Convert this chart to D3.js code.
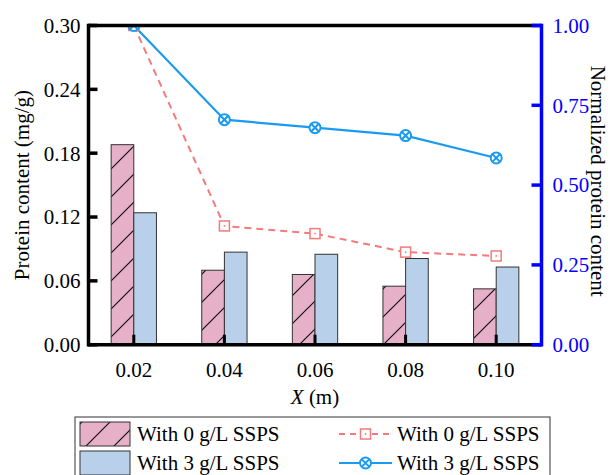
<!DOCTYPE html>
<html>
<head>
<meta charset="utf-8">
<script src="https://cdn.jsdelivr.net/npm/d3@7/dist/d3.min.js"></script>
<style>
  html, body { margin: 0; padding: 0; background: #fff; }
  svg { display: block; }
</style>
</head>
<body>
<svg id="chart" width="610" height="475" font-family="'Liberation Serif', 'Times New Roman', Times, serif"></svg>
<script>
// Distance X (m)
const positions = [0.02, 0.04, 0.06, 0.08, 0.10];
const xTickLabels = ["0.02", "0.04", "0.06", "0.08", "0.10"];
// Protein content (mg/g), bars
const protein0 = [0.188, 0.070, 0.066, 0.055, 0.0525];
const protein3 = [0.124, 0.087, 0.085, 0.081, 0.073];
// Normalized protein content, lines
const norm0 = [1.00, 0.372, 0.348, 0.290, 0.278];
const norm3 = [1.00, 0.705, 0.680, 0.655, 0.585];
// Axis ticks
const leftTicks = [0.00, 0.06, 0.12, 0.18, 0.24, 0.30];
const rightTicks = [0.00, 0.25, 0.50, 0.75, 1.00];
const seriesLabels = ["With 0 g/L SSPS", "With 3 g/L SSPS"];

const pink = "#e6b0c9", lightBlue = "#b8d0ea";
const salmon = "#f37b7b", skyBlue = "#1a9bf0", axisBlue = "#0000ff";

const svg = d3.select("#chart");
const L = 88.5, R = 541.5, T = 25.5, B = 344.7;

const x = d3.scaleLinear().domain([0.01, 0.11]).range([L, R]);
const yL = d3.scaleLinear().domain([0, 0.30]).range([B, T]);
const yR = d3.scaleLinear().domain([0, 1]).range([B, T]);
const barW = x(0.005) - x(0);

const defs = svg.append("defs");
const pat = defs.append("pattern").attr("id", "hatch")
  .attr("patternUnits", "userSpaceOnUse").attr("width", 28).attr("height", 28);
pat.append("rect").attr("width", 28).attr("height", 28).attr("fill", pink);
pat.append("path").attr("d", "M-7,7 L7,-7 M0,28 L28,0 M21,35 L35,21")
  .attr("stroke", "#111").attr("stroke-width", 1.2);
defs.append("clipPath").attr("id", "plotClip").append("rect")
  .attr("x", L).attr("y", T).attr("width", R - L).attr("height", B - T);

// Bars
const g = svg.append("g");
g.selectAll("rect.b0").data(positions).join("rect")
  .attr("x", (d) => x(d) - barW).attr("y", (d, i) => yL(protein0[i]))
  .attr("width", barW).attr("height", (d, i) => B - yL(protein0[i]))
  .attr("fill", "url(#hatch)").attr("stroke", "#333").attr("stroke-width", 1);
g.selectAll("rect.b3").data(positions).join("rect")
  .attr("x", (d) => x(d)).attr("y", (d, i) => yL(protein3[i]))
  .attr("width", barW).attr("height", (d, i) => B - yL(protein3[i]))
  .attr("fill", lightBlue).attr("stroke", "#333").attr("stroke-width", 1);

// Lines
const lines = svg.append("g").attr("clip-path", "url(#plotClip)");
const lineGen = (vals) => d3.line().x((d) => x(d)).y((d, i) => yR(vals[i]))(positions);
lines.append("path").attr("d", lineGen(norm0)).attr("fill", "none")
  .attr("stroke", salmon).attr("stroke-width", 2).attr("stroke-dasharray", "7,5");
lines.append("path").attr("d", lineGen(norm3)).attr("fill", "none")
  .attr("stroke", skyBlue).attr("stroke-width", 2.2);

function squareMarker(sel, cx, cy) {
  sel.append("rect").attr("x", cx - 5).attr("y", cy - 5).attr("width", 10).attr("height", 10)
    .attr("fill", "#fff").attr("stroke", salmon).attr("stroke-width", 1.5);
  sel.append("circle").attr("cx", cx).attr("cy", cy).attr("r", 0.9).attr("fill", salmon);
}
function crossMarker(sel, cx, cy) {
  const r = 5.5, k = r * Math.SQRT1_2;
  sel.append("circle").attr("cx", cx).attr("cy", cy).attr("r", r)
    .attr("fill", "#fff").attr("stroke", skyBlue).attr("stroke-width", 2);
  sel.append("path").attr("d", `M${cx - k},${cy - k}L${cx + k},${cy + k}M${cx - k},${cy + k}L${cx + k},${cy - k}`)
    .attr("stroke", skyBlue).attr("stroke-width", 2);
}
positions.forEach((p, i) => squareMarker(lines, x(p), yR(norm0[i])));
positions.forEach((p, i) => crossMarker(lines, x(p), yR(norm3[i])));

// Axes frame
const axes = svg.append("g");
axes.append("line").attr("x1", L).attr("x2", R).attr("y1", T).attr("y2", T)
  .attr("stroke", "#000").attr("stroke-width", 3.5);
axes.append("line").attr("x1", L).attr("x2", R).attr("y1", B).attr("y2", B)
  .attr("stroke", "#000").attr("stroke-width", 3.5);
axes.append("line").attr("x1", L).attr("x2", L).attr("y1", T - 1.75).attr("y2", B + 1.75)
  .attr("stroke", "#000").attr("stroke-width", 3.5);

// Left axis ticks and labels
axes.selectAll("line.lt").data(leftTicks).join("line")
  .attr("x1", L).attr("x2", L + 9).attr("y1", (d) => yL(d)).attr("y2", (d) => yL(d))
  .attr("stroke", "#000").attr("stroke-width", 3.5);
axes.selectAll("text.ll").data(leftTicks).join("text")
  .attr("x", L - 8).attr("y", (d) => yL(d)).attr("dy", "0.35em")
  .attr("text-anchor", "end").attr("font-size", 21).attr("fill", "#000")
  .text((d) => d3.format(".2f")(d));

// Bottom axis ticks and labels
axes.selectAll("line.bt").data(positions).join("line")
  .attr("x1", (d) => x(d)).attr("x2", (d) => x(d)).attr("y1", B).attr("y2", B - 10)
  .attr("stroke", "#000").attr("stroke-width", 3);
axes.selectAll("text.bl").data(positions).join("text")
  .attr("x", (d) => x(d)).attr("y", B + 32)
  .attr("text-anchor", "middle").attr("font-size", 21).attr("fill", "#000")
  .text((d, i) => xTickLabels[i]);

// Right axis (blue)
axes.append("line").attr("x1", R).attr("x2", R).attr("y1", T - 1.75).attr("y2", B + 1.75)
  .attr("stroke", axisBlue).attr("stroke-width", 3.5);
axes.selectAll("line.rt").data(rightTicks).join("line")
  .attr("x1", R).attr("x2", R - 10).attr("y1", (d) => yR(d)).attr("y2", (d) => yR(d))
  .attr("stroke", axisBlue).attr("stroke-width", 3.5);
axes.selectAll("text.rl").data(rightTicks).join("text")
  .attr("x", R + 11).attr("y", (d) => yR(d)).attr("dy", "0.35em")
  .attr("text-anchor", "start").attr("font-size", 21).attr("fill", axisBlue)
  .text((d) => d3.format(".2f")(d));

// Axis titles
svg.append("text").attr("transform", `translate(22,${(T + B) / 2}) rotate(-90)`)
  .attr("text-anchor", "middle").attr("dy", "0.35em").attr("font-size", 21)
  .text("Protein content (mg/g)");
svg.append("text").attr("transform", `translate(598,${(T + B) / 2 - 4}) rotate(90)`)
  .attr("text-anchor", "middle").attr("dy", "0.35em").attr("font-size", 21)
  .text("Normalized protein content");
const xt = svg.append("text").attr("x", (L + R) / 2).attr("y", 404)
  .attr("text-anchor", "middle").attr("font-size", 21);
xt.append("tspan").attr("font-style", "italic").text("X");
xt.append("tspan").text(" (m)");

// Legend
const lg = svg.append("g");
lg.append("rect").attr("x", 75).attr("y", 417).attr("width", 475).attr("height", 70)
  .attr("fill", "none").attr("stroke", "#333").attr("stroke-width", 1);
lg.append("rect").attr("x", 80).attr("y", 422).attr("width", 50).attr("height", 24)
  .attr("fill", "url(#hatch)").attr("stroke", "#333").attr("stroke-width", 1);
lg.append("rect").attr("x", 80).attr("y", 451).attr("width", 50).attr("height", 24)
  .attr("fill", lightBlue).attr("stroke", "#333").attr("stroke-width", 1);
const rowY = [434, 463];
lg.selectAll("text.lb").data(seriesLabels).join("text")
  .attr("x", 137).attr("y", (d, i) => rowY[i]).attr("dy", "0.35em")
  .attr("font-size", 21).text((d) => d);
lg.selectAll("text.ll").data(seriesLabels).join("text")
  .attr("x", 397).attr("y", (d, i) => rowY[i]).attr("dy", "0.35em")
  .attr("font-size", 21).text((d) => d);
lg.append("line").attr("x1", 339).attr("x2", 392).attr("y1", rowY[0]).attr("y2", rowY[0])
  .attr("stroke", salmon).attr("stroke-width", 2).attr("stroke-dasharray", "6,5");
squareMarker(lg, 365.5, rowY[0]);
lg.append("line").attr("x1", 339).attr("x2", 392).attr("y1", rowY[1]).attr("y2", rowY[1])
  .attr("stroke", skyBlue).attr("stroke-width", 2.2);
crossMarker(lg, 365.5, rowY[1]);
</script>
</body>
</html>
